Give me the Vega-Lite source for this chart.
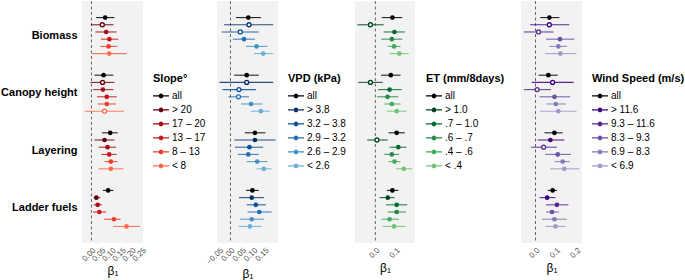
{
  "$schema": "https://vega.github.io/schema/vega-lite/v6.json",
  "padding": 0,
  "spacing": -2,
  "datasets": {
    "S": [
      {"r":"Biomass","k":0,"c":"all","b":0.068,"lo":0.023,"hi":0.114,"s":1},
      {"r":"Biomass","k":1,"c":"> 20","b":0.054,"lo":-0.003,"hi":0.109,"s":0},
      {"r":"Biomass","k":2,"c":"17 – 20","b":0.073,"lo":0.020,"hi":0.125,"s":1},
      {"r":"Biomass","k":3,"c":"13 – 17","b":0.089,"lo":0.047,"hi":0.133,"s":1},
      {"r":"Biomass","k":4,"c":"8 – 13","b":0.085,"lo":0.044,"hi":0.128,"s":1},
      {"r":"Biomass","k":5,"c":"< 8","b":0.088,"lo":0.003,"hi":0.174,"s":1},
      {"r":"Canopy height","k":0,"c":"all","b":0.060,"lo":0.015,"hi":0.109,"s":1},
      {"r":"Canopy height","k":1,"c":"> 20","b":0.055,"lo":-0.005,"hi":0.114,"s":0},
      {"r":"Canopy height","k":2,"c":"17 – 20","b":0.057,"lo":0.008,"hi":0.109,"s":1},
      {"r":"Canopy height","k":3,"c":"13 – 17","b":0.076,"lo":0.028,"hi":0.125,"s":1},
      {"r":"Canopy height","k":4,"c":"8 – 13","b":0.076,"lo":0.031,"hi":0.122,"s":1},
      {"r":"Canopy height","k":5,"c":"< 8","b":0.065,"lo":-0.033,"hi":0.162,"s":0},
      {"r":"Layering","k":0,"c":"all","b":0.093,"lo":0.052,"hi":0.130,"s":1},
      {"r":"Layering","k":1,"c":"> 20","b":0.065,"lo":0.015,"hi":0.114,"s":1},
      {"r":"Layering","k":2,"c":"17 – 20","b":0.080,"lo":0.036,"hi":0.122,"s":1},
      {"r":"Layering","k":3,"c":"13 – 17","b":0.088,"lo":0.049,"hi":0.125,"s":1},
      {"r":"Layering","k":4,"c":"8 – 13","b":0.096,"lo":0.065,"hi":0.128,"s":1},
      {"r":"Layering","k":5,"c":"< 8","b":0.096,"lo":0.036,"hi":0.158,"s":1},
      {"r":"Ladder fuels","k":0,"c":"all","b":0.083,"lo":0.057,"hi":0.109,"s":1},
      {"r":"Ladder fuels","k":1,"c":"> 20","b":0.024,"lo":0.011,"hi":0.044,"s":1},
      {"r":"Ladder fuels","k":2,"c":"17 – 20","b":0.031,"lo":0.011,"hi":0.052,"s":1},
      {"r":"Ladder fuels","k":3,"c":"13 – 17","b":0.039,"lo":0.008,"hi":0.073,"s":1},
      {"r":"Ladder fuels","k":4,"c":"8 – 13","b":0.112,"lo":0.063,"hi":0.145,"s":1},
      {"r":"Ladder fuels","k":5,"c":"< 8","b":0.174,"lo":0.109,"hi":0.242,"s":1}
    ],
    "V": [
      {"r":"Biomass","k":0,"c":"all","b":0.078,"lo":0.024,"hi":0.133,"s":1},
      {"r":"Biomass","k":1,"c":"> 3.8","b":0.081,"lo":-0.028,"hi":0.187,"s":0},
      {"r":"Biomass","k":2,"c":"3.2 – 3.8","b":0.043,"lo":-0.038,"hi":0.124,"s":0},
      {"r":"Biomass","k":3,"c":"2.9 – 3.2","b":0.059,"lo":0.010,"hi":0.107,"s":1},
      {"r":"Biomass","k":4,"c":"2.6 – 2.9","b":0.114,"lo":0.068,"hi":0.162,"s":1},
      {"r":"Biomass","k":5,"c":"< 2.6","b":0.143,"lo":0.103,"hi":0.187,"s":1},
      {"r":"Canopy height","k":0,"c":"all","b":0.071,"lo":0.016,"hi":0.124,"s":1},
      {"r":"Canopy height","k":1,"c":"> 3.8","b":0.071,"lo":-0.048,"hi":0.187,"s":0},
      {"r":"Canopy height","k":2,"c":"3.2 – 3.8","b":0.037,"lo":-0.035,"hi":0.111,"s":0},
      {"r":"Canopy height","k":3,"c":"2.9 – 3.2","b":0.035,"lo":-0.009,"hi":0.081,"s":0},
      {"r":"Canopy height","k":4,"c":"2.6 – 2.9","b":0.090,"lo":0.046,"hi":0.140,"s":1},
      {"r":"Canopy height","k":5,"c":"< 2.6","b":0.133,"lo":0.090,"hi":0.172,"s":1},
      {"r":"Layering","k":0,"c":"all","b":0.107,"lo":0.063,"hi":0.153,"s":1},
      {"r":"Layering","k":1,"c":"> 3.8","b":0.107,"lo":0.017,"hi":0.197,"s":1},
      {"r":"Layering","k":2,"c":"3.2 – 3.8","b":0.083,"lo":0.020,"hi":0.143,"s":1},
      {"r":"Layering","k":3,"c":"2.9 – 3.2","b":0.078,"lo":0.032,"hi":0.124,"s":1},
      {"r":"Layering","k":4,"c":"2.6 – 2.9","b":0.117,"lo":0.071,"hi":0.162,"s":1},
      {"r":"Layering","k":5,"c":"< 2.6","b":0.146,"lo":0.114,"hi":0.180,"s":1},
      {"r":"Ladder fuels","k":0,"c":"all","b":0.096,"lo":0.068,"hi":0.124,"s":1},
      {"r":"Ladder fuels","k":1,"c":"> 3.8","b":0.093,"lo":0.037,"hi":0.146,"s":1},
      {"r":"Ladder fuels","k":2,"c":"3.2 – 3.8","b":0.111,"lo":0.071,"hi":0.155,"s":1},
      {"r":"Ladder fuels","k":3,"c":"2.9 – 3.2","b":0.126,"lo":0.075,"hi":0.180,"s":1},
      {"r":"Ladder fuels","k":4,"c":"2.6 – 2.9","b":0.093,"lo":0.042,"hi":0.146,"s":1},
      {"r":"Ladder fuels","k":5,"c":"< 2.6","b":0.085,"lo":0.035,"hi":0.136,"s":1}
    ],
    "E": [
      {"r":"Biomass","k":0,"c":"all","b":0.084,"lo":0.032,"hi":0.132,"s":1},
      {"r":"Biomass","k":1,"c":"> 1.0","b":-0.024,"lo":-0.088,"hi":0.041,"s":0},
      {"r":"Biomass","k":2,"c":".7 – 1.0","b":0.094,"lo":0.041,"hi":0.145,"s":1},
      {"r":"Biomass","k":3,"c":".6 – .7","b":0.081,"lo":0.029,"hi":0.132,"s":1},
      {"r":"Biomass","k":4,"c":".4 – .6","b":0.092,"lo":0.061,"hi":0.124,"s":1},
      {"r":"Biomass","k":5,"c":"< .4","b":0.118,"lo":0.070,"hi":0.164,"s":1},
      {"r":"Canopy height","k":0,"c":"all","b":0.076,"lo":0.028,"hi":0.124,"s":1},
      {"r":"Canopy height","k":1,"c":"> 1.0","b":-0.024,"lo":-0.084,"hi":0.036,"s":0},
      {"r":"Canopy height","k":2,"c":".7 – 1.0","b":0.070,"lo":0.013,"hi":0.129,"s":1},
      {"r":"Canopy height","k":3,"c":".6 – .7","b":0.060,"lo":0.008,"hi":0.113,"s":1},
      {"r":"Canopy height","k":4,"c":".4 – .6","b":0.081,"lo":0.044,"hi":0.124,"s":1},
      {"r":"Canopy height","k":5,"c":"< .4","b":0.105,"lo":0.057,"hi":0.153,"s":1},
      {"r":"Layering","k":0,"c":"all","b":0.105,"lo":0.065,"hi":0.145,"s":1},
      {"r":"Layering","k":1,"c":"> 1.0","b":0.008,"lo":-0.040,"hi":0.061,"s":0},
      {"r":"Layering","k":2,"c":".7 – 1.0","b":0.113,"lo":0.070,"hi":0.153,"s":1},
      {"r":"Layering","k":3,"c":".6 – .7","b":0.081,"lo":0.044,"hi":0.116,"s":1},
      {"r":"Layering","k":4,"c":".4 – .6","b":0.094,"lo":0.065,"hi":0.124,"s":1},
      {"r":"Layering","k":5,"c":"< .4","b":0.140,"lo":0.101,"hi":0.182,"s":1},
      {"r":"Ladder fuels","k":0,"c":"all","b":0.084,"lo":0.057,"hi":0.113,"s":1},
      {"r":"Ladder fuels","k":1,"c":"> 1.0","b":0.061,"lo":0.021,"hi":0.094,"s":1},
      {"r":"Ladder fuels","k":2,"c":".7 – 1.0","b":0.105,"lo":0.053,"hi":0.157,"s":1},
      {"r":"Ladder fuels","k":3,"c":".6 – .7","b":0.105,"lo":0.061,"hi":0.150,"s":1},
      {"r":"Ladder fuels","k":4,"c":".4 – .6","b":0.070,"lo":0.029,"hi":0.116,"s":1},
      {"r":"Ladder fuels","k":5,"c":"< .4","b":0.092,"lo":0.036,"hi":0.148,"s":1}
    ],
    "W": [
      {"r":"Biomass","k":0,"c":"all","b":0.068,"lo":0.023,"hi":0.117,"s":1},
      {"r":"Biomass","k":1,"c":"> 11.6","b":0.068,"lo":-0.026,"hi":0.166,"s":0},
      {"r":"Biomass","k":2,"c":"9.3 – 11.6","b":0.015,"lo":-0.057,"hi":0.088,"s":0},
      {"r":"Biomass","k":3,"c":"8.3 – 9.3","b":0.120,"lo":0.052,"hi":0.190,"s":1},
      {"r":"Biomass","k":4,"c":"6.9 – 8.3","b":0.112,"lo":0.068,"hi":0.154,"s":1},
      {"r":"Biomass","k":5,"c":"< 6.9","b":0.122,"lo":0.047,"hi":0.201,"s":1},
      {"r":"Canopy height","k":0,"c":"all","b":0.063,"lo":0.015,"hi":0.109,"s":1},
      {"r":"Canopy height","k":1,"c":"> 11.6","b":0.084,"lo":-0.018,"hi":0.187,"s":0},
      {"r":"Canopy height","k":2,"c":"9.3 – 11.6","b":0.008,"lo":-0.057,"hi":0.076,"s":0},
      {"r":"Canopy height","k":3,"c":"8.3 – 9.3","b":0.093,"lo":0.020,"hi":0.169,"s":1},
      {"r":"Canopy height","k":4,"c":"6.9 – 8.3","b":0.100,"lo":0.055,"hi":0.149,"s":1},
      {"r":"Canopy height","k":5,"c":"< 6.9","b":0.112,"lo":0.024,"hi":0.201,"s":1},
      {"r":"Layering","k":0,"c":"all","b":0.093,"lo":0.044,"hi":0.133,"s":1},
      {"r":"Layering","k":1,"c":"> 11.6","b":0.073,"lo":0.011,"hi":0.141,"s":1},
      {"r":"Layering","k":2,"c":"9.3 – 11.6","b":0.040,"lo":-0.021,"hi":0.105,"s":0},
      {"r":"Layering","k":3,"c":"8.3 – 9.3","b":0.109,"lo":0.047,"hi":0.174,"s":1},
      {"r":"Layering","k":4,"c":"6.9 – 8.3","b":0.133,"lo":0.093,"hi":0.169,"s":1},
      {"r":"Layering","k":5,"c":"< 6.9","b":0.141,"lo":0.071,"hi":0.215,"s":1},
      {"r":"Ladder fuels","k":0,"c":"all","b":0.084,"lo":0.060,"hi":0.105,"s":1},
      {"r":"Ladder fuels","k":1,"c":"> 11.6","b":0.057,"lo":0.020,"hi":0.098,"s":1},
      {"r":"Ladder fuels","k":2,"c":"9.3 – 11.6","b":0.105,"lo":0.052,"hi":0.161,"s":1},
      {"r":"Ladder fuels","k":3,"c":"8.3 – 9.3","b":0.081,"lo":0.052,"hi":0.114,"s":1},
      {"r":"Ladder fuels","k":4,"c":"6.9 – 8.3","b":0.093,"lo":0.032,"hi":0.154,"s":1},
      {"r":"Ladder fuels","k":5,"c":"< 6.9","b":0.098,"lo":0.049,"hi":0.147,"s":1}
    ]
  },
  "hconcat": [
    {
      "width": 61, "height": 242,
      "layer": [
        {"data": {"values": [{}]}, "mark": {"type": "rule", "strokeDash": [3, 2.5], "color": "#666666", "strokeWidth": 1},
         "encoding": {"x": {"datum": 0, "type": "quantitative", "scale": {"domain": [-0.047, 0.256], "nice": false, "zero": false}, "axis": {"title": "β₁", "values": [0, 0.05, 0.1, 0.15, 0.2, 0.25], "format": ".2f", "labelOverlap": false}}}},
        {"data": {"name": "S"}, "mark": {"type": "rule", "strokeWidth": 1.1, "opacity": 0.85},
         "encoding": {
           "y": {"field": "r", "type": "nominal", "scale": {"domain": ["Biomass", "Canopy height", "Layering", "Ladder fuels"], "paddingInner": 0, "paddingOuter": 0.1}, "axis": {"title": null}},
           "yOffset": {"field": "k", "type": "ordinal", "scale": {"domain": [0, 1, 2, 3, 4, 5], "paddingInner": 0, "paddingOuter": 3}},
           "x": {"field": "lo", "type": "quantitative", "scale": {"domain": [-0.047, 0.256], "nice": false, "zero": false}, "axis": {"title": "β₁", "values": [0, 0.05, 0.1, 0.15, 0.2, 0.25], "format": ".2f", "labelOverlap": false}},
           "x2": {"field": "hi"},
           "stroke": {"field": "c", "type": "nominal", "scale": {"domain": ["< 8", "8 – 13", "13 – 17", "17 – 20", "> 20", "all"], "range": ["#fb6a4a", "#ef3b2c", "#cb181d", "#a50f15", "#67000d", "#000000"]}, "legend": null}
         }},
        {"data": {"name": "S"}, "transform": [{"filter": "datum.s == 1"}], "mark": {"type": "point", "filled": true, "size": 22, "opacity": 1},
         "encoding": {
           "y": {"field": "r", "type": "nominal", "axis": {"title": null}},
           "yOffset": {"field": "k", "type": "ordinal"},
           "x": {"field": "b", "type": "quantitative", "axis": {"title": "β₁", "values": [0, 0.05, 0.1, 0.15, 0.2, 0.25], "format": ".2f", "labelOverlap": false}},
           "color": {"field": "c", "type": "nominal", "scale": {"domain": ["all", "> 20", "17 – 20", "13 – 17", "8 – 13", "< 8"], "range": ["#000000", "#67000d", "#a50f15", "#cb181d", "#ef3b2c", "#fb6a4a"]},
             "legend": {"title": "Slope°", "orient": "none", "legendX": 71, "legendY": 72, "padding": 0}}
         }},
        {"data": {"name": "S"}, "transform": [{"filter": "datum.s == 0"}], "mark": {"type": "point", "filled": false, "fill": "white", "size": 16, "strokeWidth": 1.3, "opacity": 1},
         "encoding": {
           "y": {"field": "r", "type": "nominal", "axis": {"title": null}},
           "yOffset": {"field": "k", "type": "ordinal"},
           "x": {"field": "b", "type": "quantitative", "axis": {"title": "β₁", "values": [0, 0.05, 0.1, 0.15, 0.2, 0.25], "format": ".2f", "labelOverlap": false}},
           "stroke": {"field": "c", "type": "nominal", "legend": null}
         }}
      ]
    },
    {
      "width": 61, "height": 242,
      "layer": [
        {"data": {"values": [{}]}, "mark": {"type": "rule", "strokeDash": [3, 2.5], "color": "#666666", "strokeWidth": 1},
         "encoding": {"x": {"datum": 0, "type": "quantitative", "scale": {"domain": [-0.059, 0.208], "nice": false, "zero": false}, "axis": {"title": "β₁", "values": [-0.05, 0, 0.05, 0.1, 0.15], "format": ".2f", "labelOverlap": false}}}},
        {"data": {"name": "V"}, "mark": {"type": "rule", "strokeWidth": 1.1, "opacity": 0.85},
         "encoding": {
           "y": {"field": "r", "type": "nominal", "scale": {"domain": ["Biomass", "Canopy height", "Layering", "Ladder fuels"], "paddingInner": 0, "paddingOuter": 0.1}, "axis": null},
           "yOffset": {"field": "k", "type": "ordinal", "scale": {"domain": [0, 1, 2, 3, 4, 5], "paddingInner": 0, "paddingOuter": 3}},
           "x": {"field": "lo", "type": "quantitative", "scale": {"domain": [-0.059, 0.208], "nice": false, "zero": false}, "axis": {"title": "β₁", "values": [-0.05, 0, 0.05, 0.1, 0.15], "format": ".2f", "labelOverlap": false}},
           "x2": {"field": "hi"},
           "stroke": {"field": "c", "type": "nominal", "scale": {"domain": ["< 2.6", "2.6 – 2.9", "2.9 – 3.2", "3.2 – 3.8", "> 3.8", "all"], "range": ["#6baed6", "#4292c6", "#2171b5", "#08519c", "#08306b", "#000000"]}, "legend": null}
         }},
        {"data": {"name": "V"}, "transform": [{"filter": "datum.s == 1"}], "mark": {"type": "point", "filled": true, "size": 22, "opacity": 1},
         "encoding": {
           "y": {"field": "r", "type": "nominal", "axis": null},
           "yOffset": {"field": "k", "type": "ordinal"},
           "x": {"field": "b", "type": "quantitative", "axis": {"title": "β₁", "values": [-0.05, 0, 0.05, 0.1, 0.15], "format": ".2f", "labelOverlap": false}},
           "color": {"field": "c", "type": "nominal", "scale": {"domain": ["all", "> 3.8", "3.2 – 3.8", "2.9 – 3.2", "2.6 – 2.9", "< 2.6"], "range": ["#000000", "#08306b", "#08519c", "#2171b5", "#4292c6", "#6baed6"]},
             "legend": {"title": "VPD (kPa)", "orient": "none", "legendX": 62, "legendY": 63, "padding": 9}}
         }},
        {"data": {"name": "V"}, "transform": [{"filter": "datum.s == 0"}], "mark": {"type": "point", "filled": false, "fill": "white", "size": 16, "strokeWidth": 1.3, "opacity": 1},
         "encoding": {
           "y": {"field": "r", "type": "nominal", "axis": null},
           "yOffset": {"field": "k", "type": "ordinal"},
           "x": {"field": "b", "type": "quantitative", "axis": {"title": "β₁", "values": [-0.05, 0, 0.05, 0.1, 0.15], "format": ".2f", "labelOverlap": false}},
           "stroke": {"field": "c", "type": "nominal", "legend": null}
         }}
      ]
    },
    {
      "width": 60, "height": 242,
      "layer": [
        {"data": {"values": [{}]}, "mark": {"type": "rule", "strokeDash": [3, 2.5], "color": "#666666", "strokeWidth": 1},
         "encoding": {"x": {"datum": 0, "type": "quantitative", "scale": {"domain": [-0.1, 0.195], "nice": false, "zero": false}, "axis": {"title": "β₁", "values": [0, 0.1], "format": ".1f", "labelOverlap": false}}}},
        {"data": {"name": "E"}, "mark": {"type": "rule", "strokeWidth": 1.1, "opacity": 0.85},
         "encoding": {
           "y": {"field": "r", "type": "nominal", "scale": {"domain": ["Biomass", "Canopy height", "Layering", "Ladder fuels"], "paddingInner": 0, "paddingOuter": 0.1}, "axis": null},
           "yOffset": {"field": "k", "type": "ordinal", "scale": {"domain": [0, 1, 2, 3, 4, 5], "paddingInner": 0, "paddingOuter": 3}},
           "x": {"field": "lo", "type": "quantitative", "scale": {"domain": [-0.1, 0.195], "nice": false, "zero": false}, "axis": {"title": "β₁", "values": [0, 0.1], "format": ".1f", "labelOverlap": false}},
           "x2": {"field": "hi"},
           "stroke": {"field": "c", "type": "nominal", "scale": {"domain": ["< .4", ".4 – .6", ".6 – .7", ".7 – 1.0", "> 1.0", "all"], "range": ["#74c476", "#41ab5d", "#238b45", "#006d2c", "#00441b", "#000000"]}, "legend": null}
         }},
        {"data": {"name": "E"}, "transform": [{"filter": "datum.s == 1"}], "mark": {"type": "point", "filled": true, "size": 22, "opacity": 1},
         "encoding": {
           "y": {"field": "r", "type": "nominal", "axis": null},
           "yOffset": {"field": "k", "type": "ordinal"},
           "x": {"field": "b", "type": "quantitative", "axis": {"title": "β₁", "values": [0, 0.1], "format": ".1f", "labelOverlap": false}},
           "color": {"field": "c", "type": "nominal", "scale": {"domain": ["all", "> 1.0", ".7 – 1.0", ".6 – .7", ".4 – .6", "< .4"], "range": ["#000000", "#00441b", "#006d2c", "#238b45", "#41ab5d", "#74c476"]},
             "legend": {"title": "ET (mm/8days)", "orient": "none", "legendX": 55, "legendY": 56, "padding": 16}}
         }},
        {"data": {"name": "E"}, "transform": [{"filter": "datum.s == 0"}], "mark": {"type": "point", "filled": false, "fill": "white", "size": 16, "strokeWidth": 1.3, "opacity": 1},
         "encoding": {
           "y": {"field": "r", "type": "nominal", "axis": null},
           "yOffset": {"field": "k", "type": "ordinal"},
           "x": {"field": "b", "type": "quantitative", "axis": {"title": "β₁", "values": [0, 0.1], "format": ".1f", "labelOverlap": false}},
           "stroke": {"field": "c", "type": "nominal", "legend": null}
         }}
      ]
    },
    {
      "width": 61, "height": 242,
      "layer": [
        {"data": {"values": [{}]}, "mark": {"type": "rule", "strokeDash": [3, 2.5], "color": "#666666", "strokeWidth": 1},
         "encoding": {"x": {"datum": 0, "type": "quantitative", "scale": {"domain": [-0.071, 0.228], "nice": false, "zero": false}, "axis": {"title": "β₁", "values": [0, 0.1, 0.2], "format": ".1f", "labelOverlap": false}}}},
        {"data": {"name": "W"}, "mark": {"type": "rule", "strokeWidth": 1.1, "opacity": 0.85},
         "encoding": {
           "y": {"field": "r", "type": "nominal", "scale": {"domain": ["Biomass", "Canopy height", "Layering", "Ladder fuels"], "paddingInner": 0, "paddingOuter": 0.1}, "axis": null},
           "yOffset": {"field": "k", "type": "ordinal", "scale": {"domain": [0, 1, 2, 3, 4, 5], "paddingInner": 0, "paddingOuter": 3}},
           "x": {"field": "lo", "type": "quantitative", "scale": {"domain": [-0.071, 0.228], "nice": false, "zero": false}, "axis": {"title": "β₁", "values": [0, 0.1, 0.2], "format": ".1f", "labelOverlap": false}},
           "x2": {"field": "hi"},
           "stroke": {"field": "c", "type": "nominal", "scale": {"domain": ["< 6.9", "6.9 – 8.3", "8.3 – 9.3", "9.3 – 11.6", "> 11.6", "all"], "range": ["#9e9ac8", "#807dba", "#6a51a3", "#54278f", "#3f007d", "#000000"]}, "legend": null}
         }},
        {"data": {"name": "W"}, "transform": [{"filter": "datum.s == 1"}], "mark": {"type": "point", "filled": true, "size": 22, "opacity": 1},
         "encoding": {
           "y": {"field": "r", "type": "nominal", "axis": null},
           "yOffset": {"field": "k", "type": "ordinal"},
           "x": {"field": "b", "type": "quantitative", "axis": {"title": "β₁", "values": [0, 0.1, 0.2], "format": ".1f", "labelOverlap": false}},
           "color": {"field": "c", "type": "nominal", "scale": {"domain": ["all", "> 11.6", "9.3 – 11.6", "8.3 – 9.3", "6.9 – 8.3", "< 6.9"], "range": ["#000000", "#3f007d", "#54278f", "#6a51a3", "#807dba", "#9e9ac8"]},
             "legend": {"title": "Wind Speed (m/s)", "orient": "none", "legendX": 71, "legendY": 72, "padding": 0}}
         }},
        {"data": {"name": "W"}, "transform": [{"filter": "datum.s == 0"}], "mark": {"type": "point", "filled": false, "fill": "white", "size": 16, "strokeWidth": 1.3, "opacity": 1},
         "encoding": {
           "y": {"field": "r", "type": "nominal", "axis": null},
           "yOffset": {"field": "k", "type": "ordinal"},
           "x": {"field": "b", "type": "quantitative", "axis": {"title": "β₁", "values": [0, 0.1, 0.2], "format": ".1f", "labelOverlap": false}},
           "stroke": {"field": "c", "type": "nominal", "legend": null}
         }}
      ]
    }
  ],
  "resolve": {
    "scale": {"x": "independent", "y": "independent", "yOffset": "independent", "color": "independent", "stroke": "independent"},
    "legend": {"color": "independent"}
  },
  "config": {
    "font": "Liberation Sans",
    "view": {"fill": "#f2f2f2", "stroke": null},
    "axisX": {"labelAngle": -45, "labelAlign": "right", "labelBaseline": "top", "labelFontSize": 8, "labelColor": "#4d4d4d", "labelPadding": 3, "ticks": false, "domain": false, "grid": false, "labelOverlap": false, "labelFlush": false, "labelBound": false, "titleFontSize": 12, "titleFontWeight": "normal", "titleColor": "#000000", "titlePadding": 3},
    "axisY": {"labelFontSize": 11, "labelFontWeight": "bold", "labelColor": "#000000", "ticks": false, "domain": false, "grid": false, "labelPadding": 5, "labelLimit": 300},
    "legend": {"symbolType": "M-1,-0.07H1V0.07H-1ZM0.29,0A0.29,0.29,0,1,1,-0.29,0A0.29,0.29,0,1,1,0.29,0Z", "symbolSize": 256, "clipHeight": 11.8, "rowPadding": 2, "labelOffset": 3, "titlePadding": 6, "titleFontSize": 11, "titleFontWeight": "bold", "titleColor": "#000000", "labelFontSize": 10, "labelColor": "#000000", "symbolStrokeWidth": 0, "symbolOpacity": 1}
  }
}
